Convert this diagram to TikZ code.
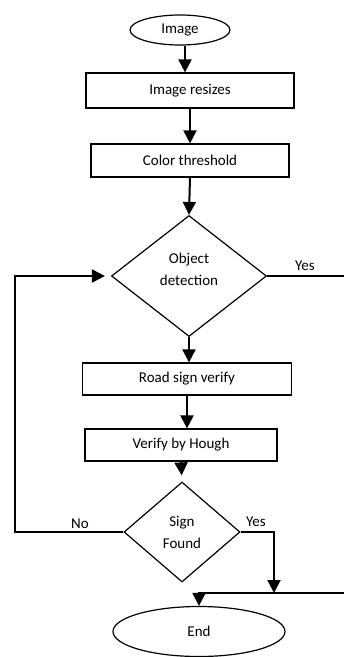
\documentclass[tikz,border=0pt]{standalone}
\usepackage{fontspec}
\setmainfont{Carlito}
\usetikzlibrary{shapes.geometric,arrows.meta}

\tikzset{
	box/.style={draw,line width=1.2pt,rectangle,minimum height=33pt,font=\fontsize{15}{18}\selectfont},
	term/.style={draw,line width=1.2pt,ellipse,font=\fontsize{15}{18}\selectfont},
	test/.style={draw,line width=1.2pt,diamond,inner sep=0pt,align=center,font=\fontsize{15}{22}\selectfont},
	flow/.style={line width=2pt,-{Triangle[length=13pt,width=13pt]}},
	link/.style={line width=1.5pt},
	lbl/.style={font=\fontsize{15}{18}\selectfont}
}

\begin{document}
\begin{tikzpicture}[x=1pt,y=-1pt]
		\useasboundingbox (0,0) rectangle (344,657);
		% steps
		\node[term,minimum width=100pt,minimum height=30pt] (img) at (180,30) {Image};
		\node[box,minimum width=208pt,minimum height=35pt] (resize) at (190,90.5) {Image resizes};
		\node[box,minimum width=198pt] (thresh) at (190,160.5) {Color threshold};
		\node[test,minimum width=155pt,minimum height=121pt,text depth=14pt] (objdet) at (189,276) {Object\\detection};
		\node[box,minimum width=209pt,minimum height=32pt] (road) at (187,379) {Road sign verify};
		\node[box,minimum width=192pt,minimum height=32pt] (hough) at (181,445) {Verify by Hough};
		\node[test,minimum width=116pt,minimum height=100pt] (found) at (182,532) {Sign\\Found};
		\node[term,minimum width=172pt,minimum height=50pt] (end) at (199,631.5) {End};

		% free ends
		\coordinate (loopbot) at (15,532);
		\coordinate (looptop) at (15,276);
		\coordinate (yesout) at (344,276);
		\coordinate (yesin) at (344,593);
		\coordinate (yesdown) at (274,532);
		\coordinate (join) at (274,593);

		% straight flow
		\draw[flow] ([xshift=5pt]img.south) -- ([xshift=5pt]img.south |- resize.north);
		\draw[flow] (resize.south) -- (resize.south |- thresh.north);
		\draw[flow] (thresh.south) -- (objdet.north);
		\draw[flow] (objdet.south) -- (objdet.south |- road.north);
		\draw[flow] (road.south) -- (road.south |- hough.north);
		\draw[flow,shorten >=6pt] (hough.south) -- (found.north);

		% branches
		\draw[link] (objdet.east) -- (yesout);
		\node[lbl] (yes1) at (305,266) {Yes};
		\draw[flow,shorten >=6pt] (found.west) -- (loopbot) -- (looptop) -- (objdet.west);
		\node[lbl] (no) at (80,524) {No};
		\draw[flow] (found.east) -- (yesdown) -- (join);
		\node[lbl] (yes2) at (256,522) {Yes};
		\draw[flow] (yesin) -| (end.north);
	\end{tikzpicture}
\end{document}
